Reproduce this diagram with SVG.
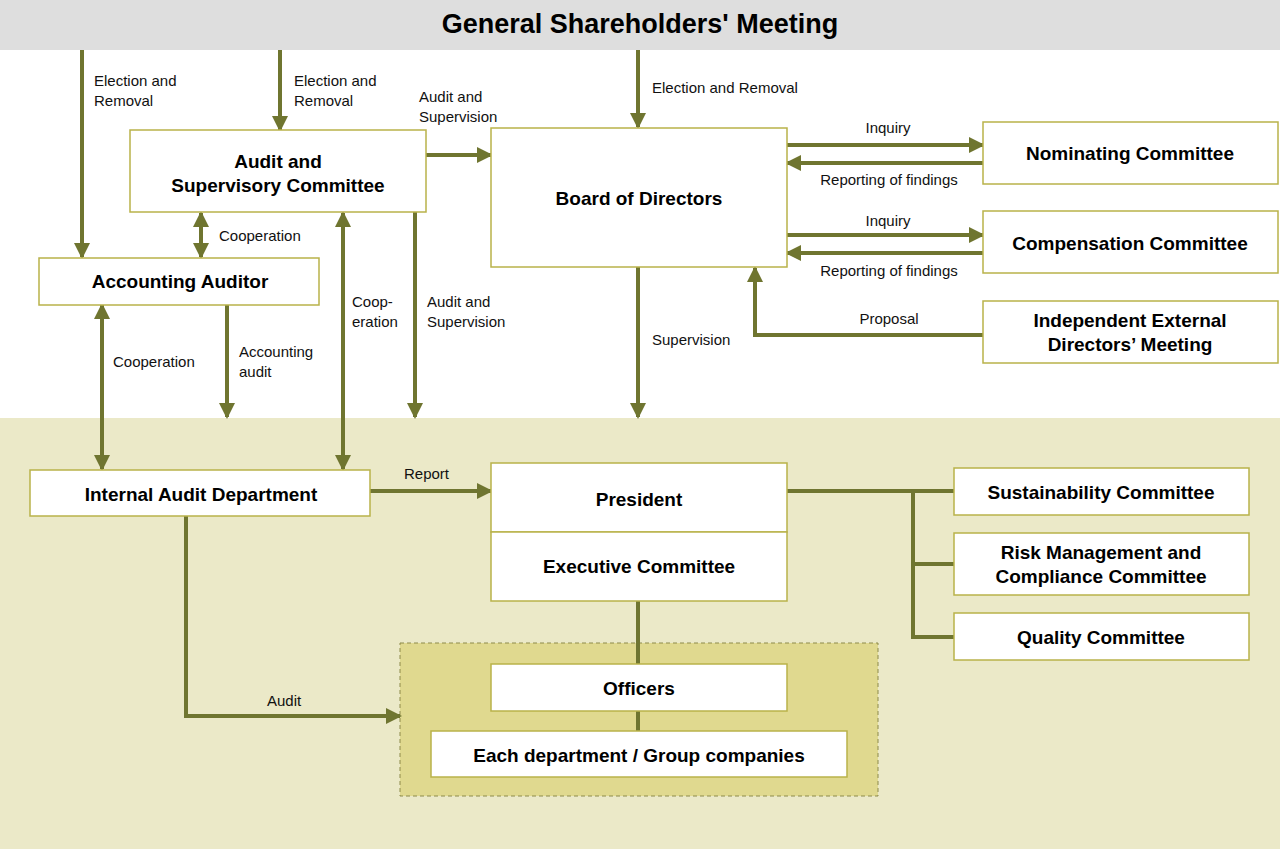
<svg xmlns="http://www.w3.org/2000/svg" width="1280" height="849" viewBox="0 0 1280 849">
<style>
.box{fill:#fff;stroke:#b9b24a;stroke-width:1.5}
.t{font-family:"Liberation Sans",Arial,sans-serif;font-weight:bold;font-size:19px;text-anchor:middle;fill:#000}
.l{font-family:"Liberation Sans",Arial,sans-serif;font-size:15px;fill:#111}
.c{fill:none;stroke:#6f7530;stroke-width:4}
</style>
<defs>
<marker id="a" markerUnits="userSpaceOnUse" markerWidth="16" markerHeight="16" refX="14" refY="8" orient="auto-start-reverse"><path d="M0,0L16,8L0,16Z" fill="#6f7530"/></marker>
</defs>
<rect width="1280" height="849" fill="#fff"/>
<rect y="418" width="1280" height="431" fill="#ebe9c8"/>
<rect width="1280" height="50" fill="#dedede"/>
<text x="640" y="33" class="t" style="font-size:27px">General Shareholders' Meeting</text>
<g id="dashed"><rect x="400" y="643" width="478" height="153" fill="#e0d98f" stroke="#8d8a4a" stroke-width="1" stroke-dasharray="4,3"/></g>
<g id="connectors">
<path class="c" d="M82,50V257" marker-end="url(#a)"/>
<path class="c" d="M280,50V130" marker-end="url(#a)"/>
<path class="c" d="M638,50V127" marker-end="url(#a)"/>
<path class="c" d="M426,155H491" marker-end="url(#a)"/>
<path class="c" d="M201,213V257" marker-start="url(#a)" marker-end="url(#a)"/>
<path class="c" d="M343,213V469" marker-start="url(#a)" marker-end="url(#a)"/>
<path class="c" d="M415,212V417" marker-end="url(#a)"/>
<path class="c" d="M638,267V417" marker-end="url(#a)"/>
<path class="c" d="M787,145H983" marker-end="url(#a)"/>
<path class="c" d="M983,163H787" marker-end="url(#a)"/>
<path class="c" d="M787,235H983" marker-end="url(#a)"/>
<path class="c" d="M983,253H787" marker-end="url(#a)"/>
<path class="c" d="M983,335H755V268" marker-end="url(#a)"/>
<path class="c" d="M102,305V469" marker-start="url(#a)" marker-end="url(#a)"/>
<path class="c" d="M227,305V417" marker-end="url(#a)"/>
<path class="c" d="M370,491H491" marker-end="url(#a)"/>
<path class="c" d="M186,516V716H400" marker-end="url(#a)"/>
<path class="c" d="M787,491H954M913,491V637H954M913,564H954"/>
<path class="c" d="M638,601V664M638,711V731"/>
</g>
<g id="labels">
<text class="l" x="94" y="86">Election and</text><text class="l" x="94" y="106">Removal</text>
<text class="l" x="294" y="86">Election and</text><text class="l" x="294" y="106">Removal</text>
<text class="l" x="419" y="102">Audit and</text><text class="l" x="419" y="122">Supervision</text>
<text class="l" x="652" y="93">Election and Removal</text>
<text class="l" x="219" y="241">Cooperation</text>
<text class="l" x="352" y="307">Coop-</text><text class="l" x="352" y="327">eration</text>
<text class="l" x="427" y="307">Audit and</text><text class="l" x="427" y="327">Supervision</text>
<text class="l" x="113" y="367">Cooperation</text>
<text class="l" x="239" y="357">Accounting</text><text class="l" x="239" y="377">audit</text>
<text class="l" x="652" y="345">Supervision</text>
<text class="l" x="888" y="133" text-anchor="middle">Inquiry</text>
<text class="l" x="889" y="185" text-anchor="middle">Reporting of findings</text>
<text class="l" x="888" y="226" text-anchor="middle">Inquiry</text>
<text class="l" x="889" y="276" text-anchor="middle">Reporting of findings</text>
<text class="l" x="889" y="324" text-anchor="middle">Proposal</text>
<text class="l" x="404" y="479">Report</text>
<text class="l" x="267" y="706">Audit</text>
</g>
<g id="asc"><rect class="box" x="130" y="130" width="296" height="82"/><text class="t" x="278" y="168">Audit and</text><text class="t" x="278" y="192">Supervisory Committee</text></g>
<g id="board"><rect class="box" x="491" y="128" width="296" height="139"/><text class="t" x="639" y="205">Board of Directors</text></g>
<g id="nom"><rect class="box" x="983" y="122" width="295" height="62"/><text class="t" x="1130" y="160">Nominating Committee</text></g>
<g id="comp"><rect class="box" x="983" y="211" width="295" height="62"/><text class="t" x="1130" y="250">Compensation Committee</text></g>
<g id="ied"><rect class="box" x="983" y="301" width="295" height="62"/><text class="t" x="1130" y="327">Independent External</text><text class="t" x="1130" y="351">Directors’ Meeting</text></g>
<g id="aa"><rect class="box" x="39" y="258" width="280" height="47"/><text class="t" x="180" y="288">Accounting Auditor</text></g>
<g id="iad"><rect class="box" x="30" y="470" width="340" height="46"/><text class="t" x="201" y="501">Internal Audit Department</text></g>
<g id="pres"><rect class="box" x="491" y="463" width="296" height="69"/><text class="t" x="639" y="506">President</text></g>
<g id="exec"><rect class="box" x="491" y="532" width="296" height="69"/><text class="t" x="639" y="573">Executive Committee</text></g>
<g id="sus"><rect class="box" x="954" y="468" width="295" height="47"/><text class="t" x="1101" y="499">Sustainability Committee</text></g>
<g id="risk"><rect class="box" x="954" y="533" width="295" height="62"/><text class="t" x="1101" y="559">Risk Management and</text><text class="t" x="1101" y="583">Compliance Committee</text></g>
<g id="qual"><rect class="box" x="954" y="613" width="295" height="47"/><text class="t" x="1101" y="644">Quality Committee</text></g>
<g id="off"><rect class="box" x="491" y="664" width="296" height="47"/><text class="t" x="639" y="695">Officers</text></g>
<g id="dept"><rect class="box" x="431" y="731" width="416" height="46"/><text class="t" x="639" y="762">Each department / Group companies</text></g>
</svg>
